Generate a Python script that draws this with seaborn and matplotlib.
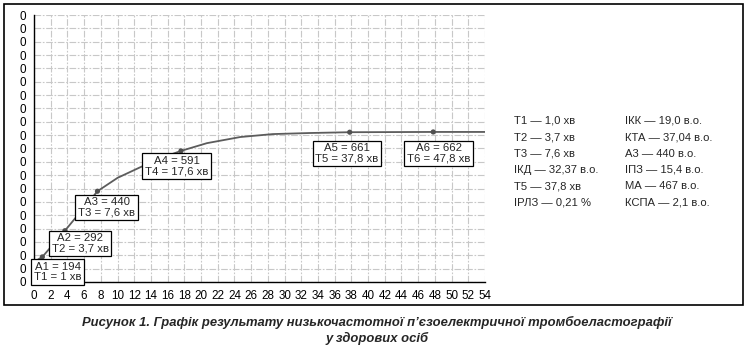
import matplotlib
matplotlib.use("Agg")
import matplotlib.pyplot as plt
from matplotlib import font_manager
from matplotlib.patches import Rectangle
import pandas as pd
import seaborn as sns

# Thromboelastogram curve: time (min) vs amplitude (rel. units)
time_min = [0, 1.0, 3.7, 7.6, 10.0, 12.6, 15.0, 17.6, 20.7, 24.7, 28.6, 33.0, 37.8, 47.8, 54.0]
amplitude = [175, 194, 292, 440, 490, 528, 562, 591, 620, 643, 654, 658, 661, 662, 662]

# Characteristic points of the curve
point_index = ["1", "2", "3", "4", "5", "6"]
point_time = [1.0, 3.7, 7.6, 17.6, 37.8, 47.8]
point_amp = [194, 292, 440, 591, 661, 662]
point_time_text = ["1", "3,7", "7,6", "17,6", "37,8", "47,8"]

x_ticks = list(range(0, 55, 2))
y_ticks = list(range(100, 1101, 50))
y_tick_labels = ["0"] * len(y_ticks)

summary_left = ["T1 — 1,0 хв", "T2 — 3,7 хв", "T3 — 7,6 хв",
                "ІКД — 32,37 в.о.", "T5 — 37,8 хв", "ІРЛЗ — 0,21 %"]
summary_right = ["ІКК — 19,0 в.о.", "КТА — 37,04 в.о.", "А3 — 440 в.о.",
                 "ІПЗ — 15,4 в.о.", "МА — 467 в.о.", "КСПА — 2,1 в.о."]
caption_lines = ["Рисунок 1. Графік результату низькочастотної п’єзоелектричної тромбоеластографії",
                 "у здорових осіб"]

# label box offsets from each point, in points
label_offsets = [(11, -11), (11, -9), (6.5, -11.7), (-3.2, -11), (-2, -15.3), (4, -15.5)]

sns.set_style("white")
plt.rcParams["font.family"] = ["Liberation Sans", "DejaVu Sans"]

available = {f.name for f in font_manager.fontManager.ttflist}
caption_family = ["Liberation Sans Narrow", "Liberation Sans"] if "Liberation Sans Narrow" in available \
    else ["Liberation Sans", "DejaVu Sans"]

W, H = 747, 350
fig = plt.figure(figsize=(W / 100, H / 100), dpi=100)
ax = fig.add_axes([34 / W, 1 - 282 / H, (485 - 34) / W, (282 - 15) / H])

curve = pd.DataFrame({"t": time_min, "a": amplitude})
points = pd.DataFrame({"t": point_time, "a": point_amp})
sns.lineplot(data=curve, x="t", y="a", ax=ax, color="#5c5c5c", linewidth=1.3, zorder=3)
sns.scatterplot(data=points, x="t", y="a", ax=ax, color="#505050", s=14,
                edgecolor="none", zorder=4)

ax.set_xlim(0, 54)
ax.set_ylim(100, 1100)
ax.set_xticks(x_ticks)
ax.set_xticklabels([str(v) for v in x_ticks])
ax.set_yticks(y_ticks)
ax.set_yticklabels(y_tick_labels)
ax.set_xlabel("")
ax.set_ylabel("")

ax.grid(True, color="#c8c8c8", linewidth=0.8, linestyle=(0, (6, 1.5, 1.5, 1.5)))
ax.set_axisbelow(True)
for side in ("top", "right"):
    ax.spines[side].set_visible(False)
for side in ("left", "bottom"):
    ax.spines[side].set_color("black")
    ax.spines[side].set_linewidth(1.0)
ax.tick_params(axis="y", direction="out", length=4, width=0.9, labelsize=8.4, pad=2, colors="black")
ax.tick_params(axis="x", direction="out", length=3, width=0.9, labelsize=8.4, pad=3, colors="black")

for idx, t, a, tt, off in zip(point_index, point_time, point_amp, point_time_text, label_offsets):
    ax.annotate(f"A{idx} = {a}\nT{idx} = {tt} хв", xy=(t, a), xytext=off,
                textcoords="offset points", ha="center", va="center",
                fontsize=8.2, linespacing=1.0, zorder=5,
                bbox=dict(boxstyle="square,pad=0.24", fc="white", ec="black", lw=0.9))

row_y = [121 + i * 16.3 for i in range(len(summary_left))]
for y, left, right in zip(row_y, summary_left, summary_right):
    fig.text(514 / W, 1 - y / H, left, ha="left", va="center", fontsize=8.1)
    fig.text(625 / W, 1 - y / H, right, ha="left", va="center", fontsize=8.1)

fig.add_artist(Rectangle((4 / W, 1 - 305 / H), (743 - 4) / W, (305 - 4) / H,
                         transform=fig.transFigure, fill=False, ec="black", lw=1.2))

fig.text(377 / W, 1 - 322 / H, caption_lines[0], ha="center", va="center",
         fontsize=9.4, fontweight="bold", fontstyle="italic", family=caption_family)
fig.text(377 / W, 1 - 338 / H, caption_lines[1], ha="center", va="center",
         fontsize=9.4, fontweight="bold", fontstyle="italic", family=caption_family)

fig.savefig("out.png", dpi=100)
